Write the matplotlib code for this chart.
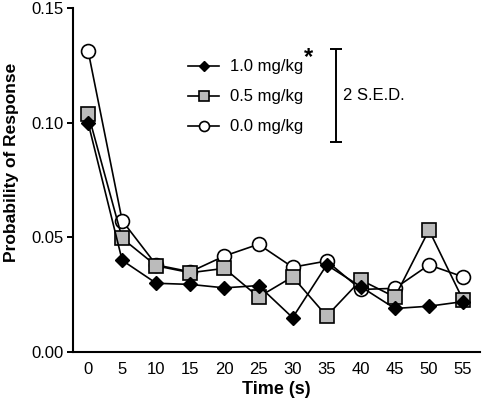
import matplotlib
matplotlib.use("Agg")
import matplotlib.pyplot as plt
import numpy as np

# 数据
time_s = [0, 5, 10, 15, 20, 25, 30, 35, 40, 45, 50, 55]
dose_10 = [0.100, 0.040, 0.030, 0.0295, 0.028, 0.029, 0.015, 0.038, 0.0285, 0.019, 0.020, 0.022]
dose_05 = [0.104, 0.0496, 0.0376, 0.0346, 0.0365, 0.024, 0.0328, 0.0157, 0.0314, 0.024, 0.0532, 0.0227]
dose_00 = [0.1314, 0.0573, 0.038, 0.035, 0.0419, 0.047, 0.037, 0.0397, 0.0273, 0.0278, 0.038, 0.0328]
sed_center = 0.1118
sed_half = 0.0203

plt.rcParams["font.family"] = ["Liberation Sans", "DejaVu Sans"]

fig = plt.figure(figsize=(4.84, 4.01), dpi=100)
ax = fig.add_axes([0.151, 0.122, 0.841, 0.858])

ax.plot(time_s, dose_00, "-o", color="black", mfc="white", mec="black",
        ms=10, lw=1.2, mew=1.2, zorder=2, label="0.0 mg/kg")
ax.plot(time_s, dose_05, "-s", color="black", mfc="#bbbbbb", mec="black",
        ms=9.5, lw=1.2, mew=1.2, zorder=3, label="0.5 mg/kg")
ax.plot(time_s, dose_10, "-D", color="black", mfc="black", mec="black",
        ms=7.5, lw=1.2, zorder=4, label="1.0 mg/kg")

# 2 S.E.D. 误差条
ax.errorbar([36.4], [sed_center], yerr=[sed_half], color="black",
            capsize=4, lw=1.4, capthick=1.4)
ax.text(37.4, sed_center, "2 S.E.D.", va="center", ha="left", fontsize=12)

handles, labels = ax.get_legend_handles_labels()
order = [2, 1, 0]
leg = ax.legend([handles[i] for i in order], [labels[i] for i in order],
                loc="upper left", bbox_to_anchor=(0.267, 0.87), frameon=False,
                fontsize=12, handlelength=1.85, handletextpad=0.65,
                labelspacing=0.9, markerscale=0.72, borderaxespad=0)

# 星号标记
fig.canvas.draw()
bb = leg.get_texts()[0].get_window_extent()
ax.annotate("*", xy=(bb.x1 + 1, bb.y1 + 2), xycoords="figure pixels",
            ha="left", va="center", fontsize=17, fontweight="bold")

ax.set_xlim(-2.2, 57.5)
ax.set_ylim(0, 0.15)
ax.set_xticks(time_s)
ax.set_yticks([0.00, 0.05, 0.10, 0.15])
ax.set_yticklabels(["0.00", "0.05", "0.10", "0.15"])
ax.tick_params(axis="x", length=0, labelsize=12, pad=7)
ax.tick_params(axis="y", length=4, width=1.4, labelsize=12, pad=3)
ax.spines["top"].set_visible(False)
ax.spines["right"].set_visible(False)
ax.spines["left"].set_linewidth(1.5)
ax.spines["bottom"].set_linewidth(1.5)

ax.set_xlabel("Time (s)", fontsize=13, fontweight="bold", labelpad=3)
ax.set_ylabel("Probability of Response", fontsize=12.5, fontweight="bold")
ax.yaxis.set_label_coords(-0.133, 0.55)

fig.savefig("out.png", dpi=100)
